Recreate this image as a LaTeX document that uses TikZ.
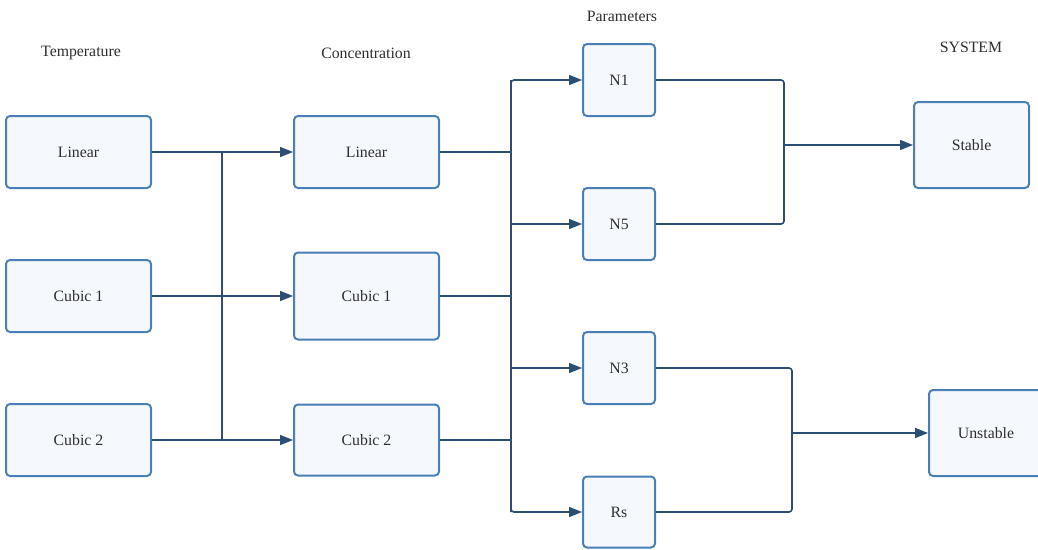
\documentclass[tikz,border=0pt]{standalone}
\usepackage{fontspec}
\setmainfont{Liberation Serif}
\usetikzlibrary{arrows.meta}
\definecolor{boxborder}{HTML}{4A7FB5}
\definecolor{boxfill}{HTML}{F5F9FE}
\definecolor{linec}{HTML}{2B4E74}
\definecolor{txt}{HTML}{2E2E2E}
\tikzset{
  box/.style={draw=boxborder, fill=boxfill, line width=2pt, rounded corners=4pt, inner sep=0pt, text=txt, font=\fontsize{15.8}{19}\selectfont},
  lbl/.style={text=txt, font=\fontsize{15.8}{19}\selectfont, inner sep=0pt},
  conn/.style={draw=linec, line width=1.6pt, rounded corners=3pt},
  arr/.style={conn, -{Triangle[length=13pt,width=10pt]}},
}
\begin{document}
\begin{tikzpicture}[x=1pt,y=-1pt]
\useasboundingbox (0,0) rectangle (1038,549);
% headers
\node[lbl] (ht) at (81,53) {Temperature};
\node[lbl] (hc) at (366,53) {Concentration};
\node[lbl] (hp) at (622,16) {Parameters};
\node[lbl] (hs) at (971,47) {SYSTEM};
% temperature column
\node[box, minimum width=145pt, minimum height=72pt] (tl) at (78.5,152) {Linear};
\node[box, minimum width=145pt, minimum height=72pt] (tc1) at (78.5,296) {Cubic 1};
\node[box, minimum width=145pt, minimum height=72pt] (tc2) at (78.5,440) {Cubic 2};
% concentration column
\node[box, minimum width=145pt, minimum height=72pt] (cl) at (366.5,152) {Linear};
\node[box, minimum width=145pt, minimum height=87pt] (cc1) at (366.5,296) {Cubic 1};
\node[box, minimum width=145pt, minimum height=71pt] (cc2) at (366.5,440) {Cubic 2};
% parameters column
\node[box, minimum width=72pt, minimum height=72pt] (n1) at (619,80) {N1};
\node[box, minimum width=72pt, minimum height=72pt] (n5) at (619,224) {N5};
\node[box, minimum width=72pt, minimum height=72pt] (n3) at (619,368) {N3};
\node[box, minimum width=72pt, minimum height=71pt] (rs) at (619,512) {Rs};
% system column
\node[box, minimum width=115pt, minimum height=86pt] (st) at (971.5,145) {Stable};
\node[box, minimum width=114pt, minimum height=86pt] (un) at (986,433) {Unstable};
% junction coordinates
\coordinate (ja) at (222,152);
\coordinate (jb) at (222,440);
\coordinate (ka) at (511,80);
\coordinate (kb) at (511,512);
\coordinate (ms) at (784,145);
\coordinate (mu) at (792,433);
% temperature -> concentration
\draw[arr] (tl.east) -- (cl.west);
\draw[arr] (tc1.east) -- (cc1.west);
\draw[arr] (tc2.east) -- (cc2.west);
\draw[conn] (ja) -- (jb);
% concentration -> parameters
\draw[conn] (cl.east) -- (cl.east -| ka);
\draw[conn] (cc1.east) -- (cc1.east -| ka);
\draw[conn] (cc2.east) -- (cc2.east -| ka);
\draw[arr] (kb) -- (ka) -- (n1.west);
\draw[arr] (ka) -- (kb) -- (rs.west);
\draw[arr] (n5.west -| ka) -- (n5.west);
\draw[arr] (n3.west -| ka) -- (n3.west);
% parameters -> system
\draw[conn] (n1.east) -| (ms);
\draw[conn] (n5.east) -| (ms);
\draw[arr] (ms) -- (st.west);
\draw[conn] (n3.east) -| (mu);
\draw[conn] (rs.east) -| (mu);
\draw[arr] (mu) -- (un.west);
\end{tikzpicture}
\end{document}
